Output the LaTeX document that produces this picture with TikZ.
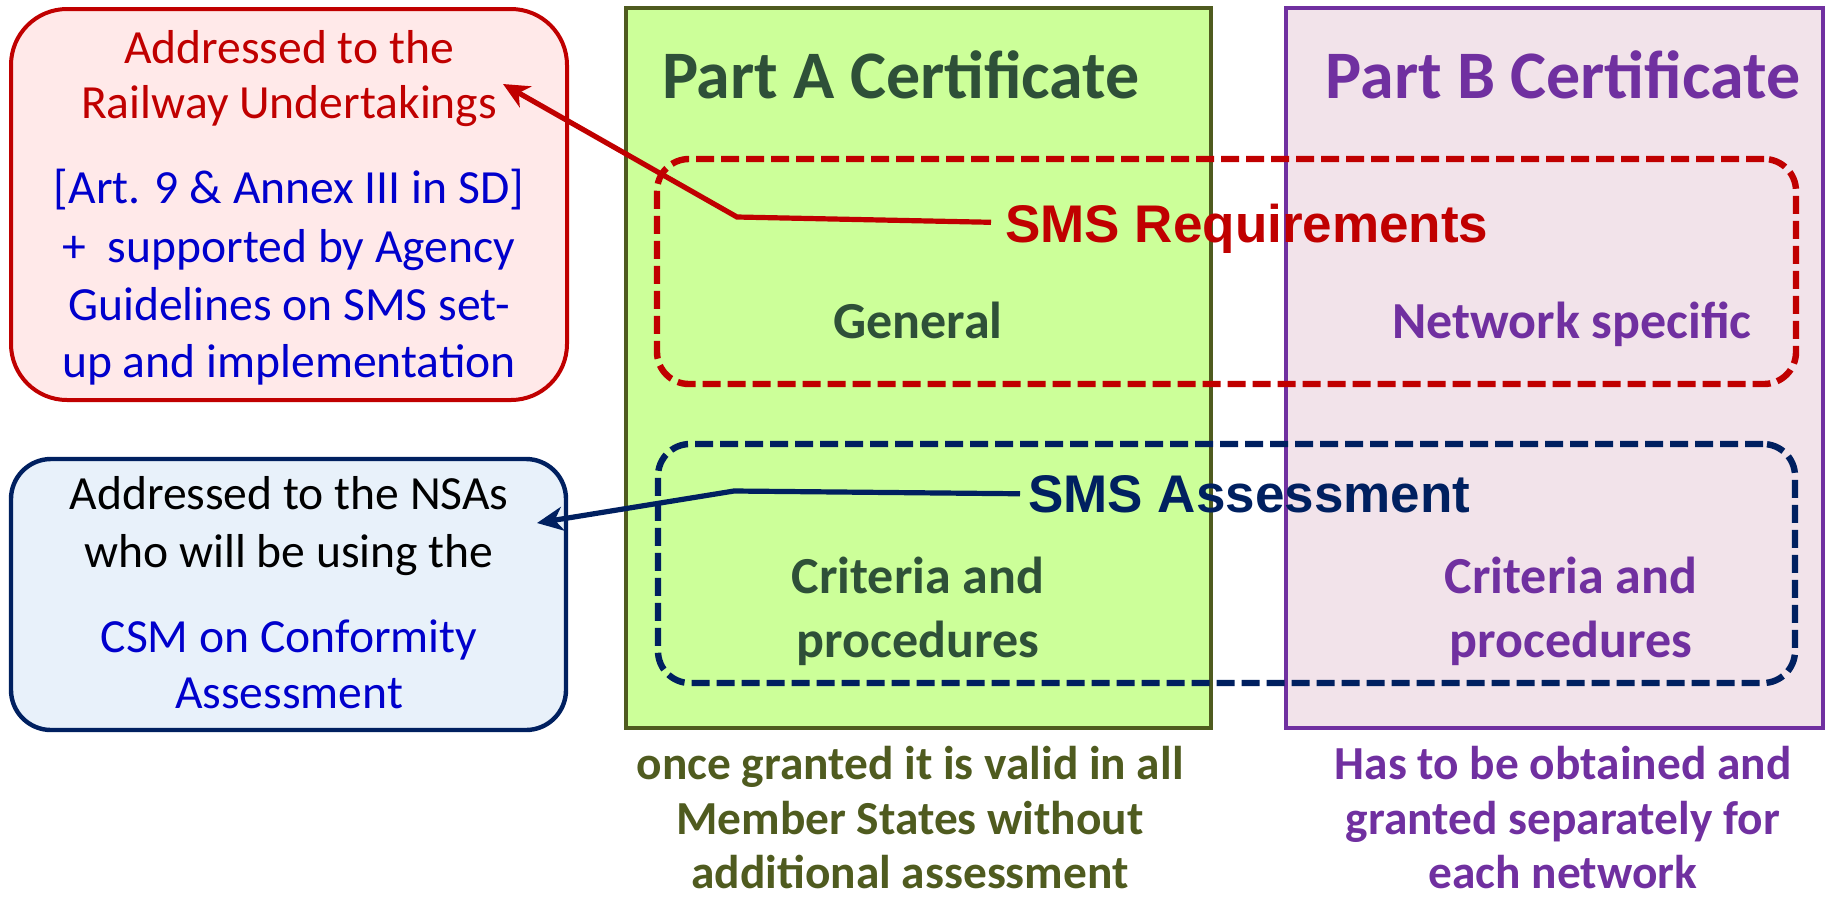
\documentclass[tikz,border=0pt]{standalone}
\usepackage{fontspec}
\setmainfont{Carlito}
\newfontfamily\labelfont{Liberation Sans}
\usetikzlibrary{arrows.meta}

\definecolor{cRed}{HTML}{C00000}
\definecolor{cNavy}{HTML}{002060}
\definecolor{cBlue}{HTML}{0000CC}
\definecolor{cGreenText}{HTML}{2E5038}
\definecolor{cOlive}{HTML}{4F5B1F}
\definecolor{cPurple}{HTML}{7030A0}
\definecolor{cGreenFill}{HTML}{CCFF99}
\definecolor{cPurpleFill}{HTML}{F2E3EA}
\definecolor{cPinkFill}{HTML}{FFE9E9}
\definecolor{cSkyFill}{HTML}{E8F1FA}

\tikzset{
  txt/.style={inner sep=0pt, anchor=base},
  boxtext/.style={txt, font=\fontsize{23.8}{28}\selectfont},
  certtitle/.style={txt, font=\fontsize{34}{40}\selectfont\bfseries},
  celltext/.style={txt, font=\fontsize{26}{30}\selectfont\bfseries},
  notetext/.style={txt, font=\fontsize{23.7}{28}\selectfont\bfseries},
  smslabel/.style={txt, anchor=base west, font=\labelfont\fontsize{26.5}{30}\selectfont\bfseries},
  infobox/.style={rectangle, line width=2pt},
  certbox/.style={rectangle, line width=2pt},
  dashbox/.style={rectangle, line width=3.2pt, dash pattern=on 9pt off 3.5pt, rounded corners=16pt},
  connector/.style={line width=2.6pt, -{Stealth[length=13pt,width=12pt,inset=4pt]}},
}

\begin{document}
\begin{tikzpicture}[x=0.5pt,y=-0.5pt]
\useasboundingbox (0,0) rectangle (1827,901);

% information boxes on the left
\node (rubox) [infobox, draw=cRed, fill=cPinkFill, rounded corners=28pt,
  minimum width=278pt, minimum height=195.5pt] at (289,204.5) {};
\node (nsabox) [infobox, draw=cNavy, fill=cSkyFill, rounded corners=20pt, line width=2.2pt,
  minimum width=277.5pt, minimum height=135.5pt] at (288.5,594.5) {};

% certificate columns
\node (partA) [certbox, draw=cOlive, fill=cGreenFill, line width=2.3pt,
  minimum width=292.5pt, minimum height=360pt] at (918.5,368) {};
\node (partB) [certbox, draw=cPurple, fill=cPurpleFill, line width=1.8pt,
  minimum width=268.5pt, minimum height=360pt] at (1554.5,368) {};

% dashed groups spanning both columns
\node (reqgroup) [dashbox, draw=cRed, minimum width=569.5pt, minimum height=112.5pt] at (1226.5,271.5) {};
\node (assgroup) [dashbox, draw=cNavy, minimum width=568.5pt, minimum height=119.5pt] at (1226.5,563.5) {};

% text of the left boxes
\node (ru1) [boxtext, text=cRed] at (289,63) {Addressed to the};
\node (ru2) [boxtext, text=cRed] at (289,118) {Railway Undertakings};
\node (ru3) [boxtext, text=cBlue] at (289,203) {[Art. 9 \& Annex III in SD]};
\node (ru4) [boxtext, text=cBlue] at (289,262) {+\ \ supported by Agency};
\node (ru5) [boxtext, text=cBlue] at (289,320) {Guidelines on SMS set-};
\node (ru6) [boxtext, text=cBlue] at (289,377) {up and implementation};

\node (nsa1) [boxtext, text=black] at (289,509) {Addressed to the NSAs};
\node (nsa2) [boxtext, text=black] at (289,567) {who will be using the};
\node (nsa3) [boxtext, text=cBlue] at (289,652) {CSM on Conformity};
\node (nsa4) [boxtext, text=cBlue] at (289,708) {Assessment};

% column titles and cell texts
\node (titleA) [certtitle, text=cGreenText] at (901,98) {Part A Certificate};
\node (titleB) [certtitle, text=cPurple] at (1563,98) {Part B Certificate};

\node (general) [celltext, text=cGreenText] at (918,338) {General};
\node (network) [celltext, text=cPurple] at (1572,338) {Network specific};

\node (critA1) [celltext, text=cGreenText] at (918,593) {Criteria and};
\node (critA2) [celltext, text=cGreenText] at (918,657) {procedures};
\node (critB1) [celltext, text=cPurple] at (1571,593) {Criteria and};
\node (critB2) [celltext, text=cPurple] at (1571,657) {procedures};

% notes under the columns
\node (noteA1) [notetext, text=cOlive] at (910,779) {once granted it is valid in all};
\node (noteA2) [notetext, text=cOlive] at (910,834) {Member States without};
\node (noteA3) [notetext, text=cOlive] at (910,888) {additional assessment};
\node (noteB1) [notetext, text=cPurple] at (1563,779) {Has to be obtained and};
\node (noteB2) [notetext, text=cPurple] at (1563,834) {granted separately for};
\node (noteB3) [notetext, text=cPurple] at (1563,888) {each network};

% group labels
\node (reqlabel) [smslabel, text=cRed] at (1005,242) {SMS Requirements};
\node (asslabel) [smslabel, text=cNavy] at (1028,512) {SMS Assessment};

% connectors from the group labels to the boxes on the left
\coordinate (reqbend) at (737,217);
\coordinate (reqtip) at (503,84);
\coordinate (assbend) at (734,491);
\coordinate (asstip) at (537,523);
\draw[connector, draw=cRed] ([xshift=-7pt,yshift=3pt]reqlabel.west) -- (reqbend) -- (reqtip);
\draw[connector, draw=cNavy] ([xshift=-4pt]asslabel.west) -- (assbend) -- (asstip);
\end{tikzpicture}
\end{document}
